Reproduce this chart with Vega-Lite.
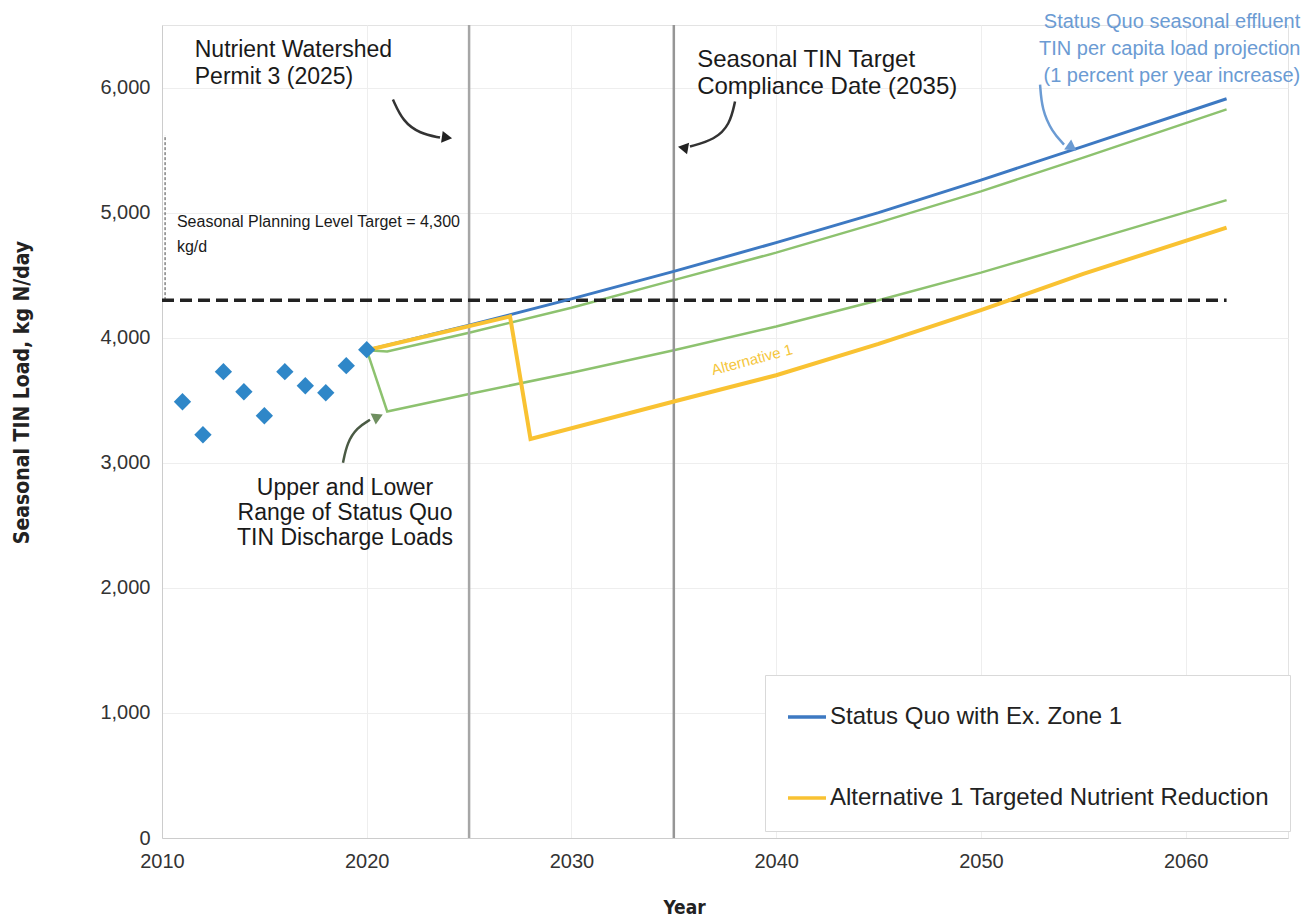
{
  "$schema": "https://vega.github.io/schema/vega-lite/v6.json",
  "width": 1126,
  "height": 813,
  "autosize": {"type": "none"},
  "padding": {"left": 162, "top": 25, "right": 21, "bottom": 79},
  "background": "white",
  "config": {
    "view": {"stroke": "#e3e3e3"},
    "font": "Liberation Sans",
    "axis": {"grid": true, "gridColor": "#eeeeee", "ticks": false, "labelFlush": false, "domainColor": "#cccccc", "labelColor": "#333333", "labelFont": "Liberation Sans", "titleFont": "Liberation Sans Narrow, DejaVu Sans Condensed, Liberation Sans", "titleFontWeight": "bold", "titleColor": "#222222"}
  },
  "datasets": {
    "obs": [
      {"year": 2011, "load": 3488}, {"year": 2012, "load": 3224}, {"year": 2013, "load": 3728},
      {"year": 2014, "load": 3568}, {"year": 2015, "load": 3376}, {"year": 2016, "load": 3728},
      {"year": 2017, "load": 3616}, {"year": 2018, "load": 3560}, {"year": 2019, "load": 3776},
      {"year": 2020, "load": 3904}
    ],
    "series": [
      {"series": "Upper", "year": 2020, "load": 3900}, {"series": "Upper", "year": 2021, "load": 3890},
      {"series": "Upper", "year": 2025, "load": 4040}, {"series": "Upper", "year": 2030, "load": 4240},
      {"series": "Upper", "year": 2035, "load": 4460}, {"series": "Upper", "year": 2040, "load": 4680},
      {"series": "Upper", "year": 2045, "load": 4920}, {"series": "Upper", "year": 2050, "load": 5170},
      {"series": "Upper", "year": 2055, "load": 5440}, {"series": "Upper", "year": 2062, "load": 5825},
      {"series": "Lower", "year": 2020, "load": 3900}, {"series": "Lower", "year": 2021, "load": 3410},
      {"series": "Lower", "year": 2025, "load": 3550}, {"series": "Lower", "year": 2030, "load": 3720},
      {"series": "Lower", "year": 2035, "load": 3900}, {"series": "Lower", "year": 2040, "load": 4090},
      {"series": "Lower", "year": 2045, "load": 4300}, {"series": "Lower", "year": 2050, "load": 4520},
      {"series": "Lower", "year": 2055, "load": 4760}, {"series": "Lower", "year": 2062, "load": 5100},
      {"series": "SQ", "year": 2020, "load": 3900}, {"series": "SQ", "year": 2025, "load": 4100},
      {"series": "SQ", "year": 2030, "load": 4310}, {"series": "SQ", "year": 2035, "load": 4530},
      {"series": "SQ", "year": 2040, "load": 4760}, {"series": "SQ", "year": 2045, "load": 5000},
      {"series": "SQ", "year": 2050, "load": 5260}, {"series": "SQ", "year": 2055, "load": 5530},
      {"series": "SQ", "year": 2062, "load": 5910},
      {"series": "Alt1", "year": 2020, "load": 3900}, {"series": "Alt1", "year": 2027, "load": 4170},
      {"series": "Alt1", "year": 2028, "load": 3190}, {"series": "Alt1", "year": 2035, "load": 3490},
      {"series": "Alt1", "year": 2040, "load": 3700}, {"series": "Alt1", "year": 2045, "load": 3950},
      {"series": "Alt1", "year": 2050, "load": 4220}, {"series": "Alt1", "year": 2055, "load": 4510},
      {"series": "Alt1", "year": 2062, "load": 4880}
    ],
    "arrows": [
      {"arrow": "a1", "ord": 1, "year": 2021.28, "load": 5904}, {"arrow": "a1", "ord": 2, "year": 2021.77, "load": 5728},
      {"arrow": "a1", "ord": 3, "year": 2022.6, "load": 5632}, {"arrow": "a1", "ord": 4, "year": 2023.58, "load": 5600},
      {"arrow": "a2", "ord": 1, "year": 2037.99, "load": 5888}, {"arrow": "a2", "ord": 2, "year": 2037.74, "load": 5704},
      {"arrow": "a2", "ord": 3, "year": 2037.01, "load": 5584}, {"arrow": "a2", "ord": 4, "year": 2035.79, "load": 5528}
    ],
    "arrow3": [
      {"ord": 1, "year": 2018.84, "load": 3000}, {"ord": 2, "year": 2019.04, "load": 3160},
      {"ord": 3, "year": 2019.52, "load": 3280}, {"ord": 4, "year": 2020.16, "load": 3344}
    ],
    "arrow4": [
      {"ord": 1, "year": 2052.89, "load": 6024}, {"ord": 2, "year": 2052.98, "load": 5824},
      {"ord": 3, "year": 2053.47, "load": 5648}, {"ord": 4, "year": 2054.06, "load": 5544}
    ]
  },
  "layer": [
    {
      "data": {"name": "series"},
      "transform": [{"filter": "datum.series === 'Upper' || datum.series === 'Lower'"}],
      "mark": {"type": "line", "color": "#8dc26f", "strokeWidth": 2.5},
      "encoding": {
        "x": {"field": "year", "type": "quantitative", "title": "Year",
              "scale": {"domain": [2010, 2065], "nice": false, "zero": false},
              "axis": {"values": [2010, 2020, 2030, 2040, 2050, 2060], "format": "d", "labelFontSize": 20, "labelPadding": 13, "titleFontSize": 19, "titleX": 522, "titleY": 69, "titleBaseline": "middle"}},
        "y": {"field": "load", "type": "quantitative", "title": "Seasonal TIN Load, kg N/day",
              "scale": {"domain": [0, 6500], "nice": false},
              "axis": {"values": [0, 1000, 2000, 3000, 4000, 5000, 6000], "format": ",d", "labelFontSize": 20, "labelPadding": 12, "titleFontSize": 21, "titleX": -140, "titleY": 367, "titleAngle": 270, "titleBaseline": "middle", "titleAlign": "center"}},
        "detail": {"field": "series", "type": "nominal"}
      }
    },
    {
      "data": {"values": [{}]},
      "mark": {"type": "rule", "color": "#a6a6a6", "strokeWidth": 2.5},
      "encoding": {"x": {"datum": 2025, "type": "quantitative"}, "y": {"datum": 0, "type": "quantitative"}, "y2": {"datum": 6500}}
    },
    {
      "data": {"values": [{}]},
      "mark": {"type": "rule", "color": "#969696", "strokeWidth": 2.5},
      "encoding": {"x": {"datum": 2035, "type": "quantitative"}, "y": {"datum": 0, "type": "quantitative"}, "y2": {"datum": 6500}}
    },
    {
      "data": {"values": [{}]},
      "mark": {"type": "rule", "color": "#444444", "strokeWidth": 1, "strokeDash": [3, 2]},
      "encoding": {"x": {"datum": 2010.15, "type": "quantitative"}, "y": {"datum": 4300, "type": "quantitative"}, "y2": {"datum": 5620}}
    },
    {
      "data": {"values": [{}]},
      "mark": {"type": "rule", "color": "#222222", "strokeWidth": 3.5, "strokeDash": [12, 6]},
      "encoding": {"x": {"datum": 2010, "type": "quantitative"}, "x2": {"datum": 2062}, "y": {"datum": 4300, "type": "quantitative"}}
    },
    {
      "data": {"name": "series"},
      "transform": [{"filter": "datum.series === 'SQ'"}],
      "mark": {"type": "line", "strokeWidth": 3},
      "encoding": {
        "x": {"field": "year", "type": "quantitative"},
        "y": {"field": "load", "type": "quantitative"},
        "color": {"datum": "Status Quo with Ex. Zone 1", "type": "nominal",
                  "scale": {"domain": ["Status Quo with Ex. Zone 1", "Alternative 1 Targeted Nutrient Reduction"], "range": ["#3d79c2", "#f9c232"]},
                  "legend": {"title": null, "orient": "none", "legendX": 603, "legendY": 650, "symbolType": "stroke", "symbolSize": 1444, "symbolStrokeWidth": 3.5, "labelFontSize": 24, "labelFont": "Liberation Sans", "labelColor": "#222222", "labelLimit": 700, "labelOffset": 2, "rowPadding": 48, "padding": 21, "strokeColor": "#d9d9d9", "fillColor": "white"}}
      }
    },
    {
      "data": {"name": "series"},
      "transform": [{"filter": "datum.series === 'Alt1'"}],
      "mark": {"type": "line", "strokeWidth": 4},
      "encoding": {
        "x": {"field": "year", "type": "quantitative"},
        "y": {"field": "load", "type": "quantitative"},
        "color": {"datum": "Alternative 1 Targeted Nutrient Reduction", "type": "nominal"}
      }
    },
    {
      "data": {"name": "obs"},
      "mark": {"type": "point", "shape": "diamond", "filled": true, "color": "#2f87c8", "size": 300, "opacity": 1},
      "encoding": {
        "x": {"field": "year", "type": "quantitative"},
        "y": {"field": "load", "type": "quantitative"}
      }
    },
    {
      "data": {"name": "arrows"},
      "mark": {"type": "line", "color": "#333333", "strokeWidth": 2.5, "interpolate": "basis"},
      "encoding": {
        "x": {"field": "year", "type": "quantitative"},
        "y": {"field": "load", "type": "quantitative"},
        "detail": {"field": "arrow", "type": "nominal"},
        "order": {"field": "ord"}
      }
    },
    {
      "data": {"name": "arrow3"},
      "mark": {"type": "line", "color": "#4a5a44", "strokeWidth": 2.5, "interpolate": "basis"},
      "encoding": {
        "x": {"field": "year", "type": "quantitative"},
        "y": {"field": "load", "type": "quantitative"},
        "order": {"field": "ord"}
      }
    },
    {
      "data": {"name": "arrow4"},
      "mark": {"type": "line", "color": "#6b9bd3", "strokeWidth": 2.5, "interpolate": "basis"},
      "encoding": {
        "x": {"field": "year", "type": "quantitative"},
        "y": {"field": "load", "type": "quantitative"},
        "order": {"field": "ord"}
      }
    },
    {
      "data": {"values": [{}]},
      "mark": {"type": "point", "shape": "triangle-right", "filled": true, "color": "#222222", "size": 140, "angle": 8, "opacity": 1},
      "encoding": {"x": {"datum": 2023.92, "type": "quantitative"}, "y": {"datum": 5600, "type": "quantitative"}}
    },
    {
      "data": {"values": [{}]},
      "mark": {"type": "point", "shape": "triangle-left", "filled": true, "color": "#222222", "size": 140, "angle": 10, "opacity": 1},
      "encoding": {"x": {"datum": 2035.45, "type": "quantitative"}, "y": {"datum": 5520, "type": "quantitative"}}
    },
    {
      "data": {"values": [{}]},
      "mark": {"type": "point", "shape": "triangle-right", "filled": true, "color": "#6f8f60", "size": 150, "angle": -25, "opacity": 1},
      "encoding": {"x": {"datum": 2020.55, "type": "quantitative"}, "y": {"datum": 3368, "type": "quantitative"}}
    },
    {
      "data": {"values": [{}]},
      "mark": {"type": "point", "shape": "triangle-right", "filled": true, "color": "#6b9bd3", "size": 150, "angle": 35, "opacity": 1},
      "encoding": {"x": {"datum": 2054.45, "type": "quantitative"}, "y": {"datum": 5520, "type": "quantitative"}}
    },
    {
      "data": {"values": [
        {"year": 2011.6, "load": 6392, "label": "Nutrient Watershed\nPermit 3 (2025)"}
      ]},
      "mark": {"type": "text", "align": "left", "baseline": "top", "fontSize": 23, "lineHeight": 27, "lineBreak": "\n", "color": "#1a1a1a", "font": "Liberation Sans"},
      "encoding": {
        "x": {"field": "year", "type": "quantitative"},
        "y": {"field": "load", "type": "quantitative"},
        "text": {"field": "label"}
      }
    },
    {
      "data": {"values": [
        {"year": 2036.14, "load": 6320, "label": "Seasonal TIN Target\nCompliance Date (2035)"}
      ]},
      "mark": {"type": "text", "align": "left", "baseline": "top", "fontSize": 24, "lineHeight": 27, "lineBreak": "\n", "color": "#1a1a1a", "font": "Liberation Sans"},
      "encoding": {
        "x": {"field": "year", "type": "quantitative"},
        "y": {"field": "load", "type": "quantitative"},
        "text": {"field": "label"}
      }
    },
    {
      "data": {"values": [
        {"year": 2018.94, "load": 2888, "label": "Upper and Lower\nRange of Status Quo\nTIN Discharge Loads"}
      ]},
      "mark": {"type": "text", "align": "center", "baseline": "top", "fontSize": 23, "lineHeight": 25, "lineBreak": "\n", "color": "#1a1a1a", "font": "Liberation Sans"},
      "encoding": {
        "x": {"field": "year", "type": "quantitative"},
        "y": {"field": "load", "type": "quantitative"},
        "text": {"field": "label"}
      }
    },
    {
      "data": {"values": [
        {"year": 2065.6, "load": 6605, "label": "Status Quo seasonal effluent\nTIN per capita load projection\n(1 percent per year increase)"}
      ]},
      "mark": {"type": "text", "align": "right", "baseline": "top", "fontSize": 20, "lineHeight": 27, "lineBreak": "\n", "color": "#6b9bd3", "font": "Liberation Sans"},
      "encoding": {
        "x": {"field": "year", "type": "quantitative"},
        "y": {"field": "load", "type": "quantitative"},
        "text": {"field": "label"}
      }
    },
    {
      "data": {"values": [
        {"year": 2010.73, "load": 4928, "label": "Seasonal Planning Level Target = 4,300"},
        {"year": 2010.73, "load": 4728, "label": "kg/d"}
      ]},
      "mark": {"type": "text", "align": "left", "baseline": "middle", "fontSize": 16, "color": "#1a1a1a", "font": "Liberation Sans"},
      "encoding": {
        "x": {"field": "year", "type": "quantitative"},
        "y": {"field": "load", "type": "quantitative"},
        "text": {"field": "label"}
      }
    },
    {
      "data": {"values": [{"year": 2038.82, "load": 3824, "label": "Alternative 1"}]},
      "mark": {"type": "text", "align": "center", "baseline": "middle", "fontSize": 15, "angle": -15, "color": "#f5c63c", "font": "Liberation Sans"},
      "encoding": {
        "x": {"field": "year", "type": "quantitative"},
        "y": {"field": "load", "type": "quantitative"},
        "text": {"field": "label"}
      }
    }
  ]
}
